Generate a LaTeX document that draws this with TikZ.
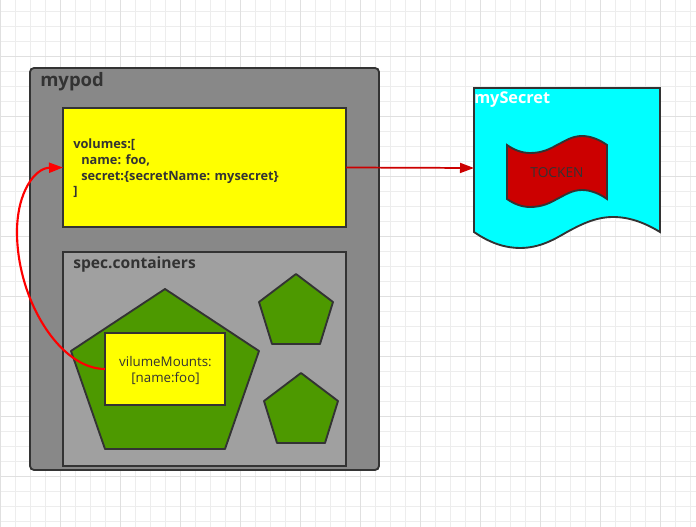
\documentclass[tikz,border=0pt]{standalone}
\usepackage{fontspec}
\setmainfont{Open Sans}
\usetikzlibrary{arrows.meta, positioning}
\definecolor{edgegray}{HTML}{333333}
\definecolor{podgray}{HTML}{888888}
\definecolor{specgray}{HTML}{A0A0A0}
\definecolor{leafgreen}{HTML}{4D9900}
\definecolor{tokenred}{HTML}{CC0000}
\definecolor{cardyellow}{HTML}{FFFF00}
\definecolor{secretcyan}{HTML}{00FFFF}
\definecolor{linkred}{HTML}{FF0000}
\tikzset{
  gridminor/.style={draw=black!7, line width=0.6pt},
  gridmajor/.style={draw=black!12, line width=0.6pt},
  shapeline/.style={draw=edgegray, line width=1.4pt},
  cardbox/.style={shapeline, anchor=north west, inner sep=0pt, outer sep=0pt},
  titletext/.style={anchor=west, inner sep=0pt, font=\bfseries, text=edgegray},
  leaf/.style={shapeline, fill=leafgreen, line join=round},
}
\begin{document}
\begin{tikzpicture}[x=0.75pt, y=-0.75pt, font=\fontsize{10}{12}\selectfont]
  \useasboundingbox (0,0) rectangle (696,527);
  \foreach \x in {15,30,...,690}
    \draw[gridminor] (\x+0.6,0) -- (\x+0.6,527);
  \foreach \y in {11,26,...,521}
    \draw[gridminor] (0,\y+0.7) -- (696,\y+0.7);
  \foreach \x in {0,60,...,660}
    \draw[gridmajor] (\x+0.6,0) -- (\x+0.6,527);
  \foreach \y in {56,116,...,476}
    \draw[gridmajor] (0,\y+0.7) -- (696,\y+0.7);

  % pod
  \node[cardbox, fill=podgray, rounded corners=3pt, minimum width=349*0.75pt, minimum height=402*0.75pt] (mypod) at (30,68) {};
  \node[titletext, font=\fontsize{13.9}{16}\selectfont\bfseries] (mypodtitle) at (40,81.5) {mypod};
  \node[cardbox, fill=cardyellow, minimum width=283*0.75pt, minimum height=119*0.75pt] (volumes) at (63,108) {};
  \node[anchor=west, inner sep=0pt, align=left, text=edgegray, font=\fontsize{9.6}{11.8}\selectfont\bfseries] (volumestext) at (73,168.5) {volumes:[\\\hspace*{6pt}name: foo,\\\hspace*{6pt}secret:\{secretName: mysecret\}\\]};

  % containers
  \node[cardbox, fill=specgray, minimum width=283*0.75pt, minimum height=214*0.75pt] (spec) at (63,252) {};
  \node[titletext, font=\fontsize{11.7}{14}\selectfont\bfseries] (spectitle) at (73,264) {spec.containers};
  \draw[leaf] (165,289) -- (259,351) -- (225,449) -- (105,449) -- (71,351) -- cycle;
  \foreach \x/\y in {296/274, 301/373}
    \draw[leaf] (\x,\y) -- (\x+37,\y+28) -- (\x+24,\y+70) -- (\x-24,\y+70) -- (\x-37,\y+28) -- cycle;
  \node[cardbox, fill=cardyellow, minimum width=120*0.75pt, minimum height=72*0.75pt] (mounts) at (105,333) {};
  \node[inner sep=0pt, align=center, text=edgegray, font=\fontsize{10}{12}\selectfont] (mountstext) at (165.5,370) {vilumeMounts:\\{}[name:foo]};

  % secret
  \draw[shapeline, fill=secretcyan] (474,88) -- (660,88) -- (660,232) .. controls (645,223) and (630,217) .. (613,217) .. controls (595,217) and (580,225) .. (567,232) .. controls (555,239) and (540,248) .. (520,248) .. controls (505,248) and (490,243) .. (474,232) -- cycle;
  \node[titletext, text=white, font=\fontsize{12.2}{14}\selectfont\bfseries] (secrettitle) at (474,99.5) {mySecret};
  \coordinate (secretedge) at (474,168);
  \draw[shapeline, fill=tokenred] (507,145) .. controls (514,150) and (522,153) .. (530,153) .. controls (542,153) and (550,149) .. (557,145) .. controls (565,141) and (572,136) .. (582,136) .. controls (591,136) and (600,140) .. (607,145) -- (607,199) .. controls (600,194) and (591,190) .. (582,190) .. controls (572,190) and (565,195) .. (557,199) .. controls (550,203) and (542,207) .. (530,207) .. controls (522,207) and (514,204) .. (507,199) -- cycle;
  \node[inner sep=0pt, text=edgegray, font=\fontsize{10.3}{12}\selectfont] (token) at (557,173) {TOCKEN};

  % links
  \draw[-{Stealth[length=14*0.75pt, width=10*0.75pt, inset=0pt]}, tokenred, line width=1.3pt] (volumes.east) -- (secretedge);
  \coordinate (bend) at (17,232);
  \draw[-{Stealth[length=14*0.75pt, width=10*0.75pt, inset=0pt]}, linkred, line width=1.6pt] (mounts.west) .. controls +(-45,0) and (17,300) .. (bend) .. controls (17,192) and (35,168) .. (volumes.west);
\end{tikzpicture}
\end{document}
